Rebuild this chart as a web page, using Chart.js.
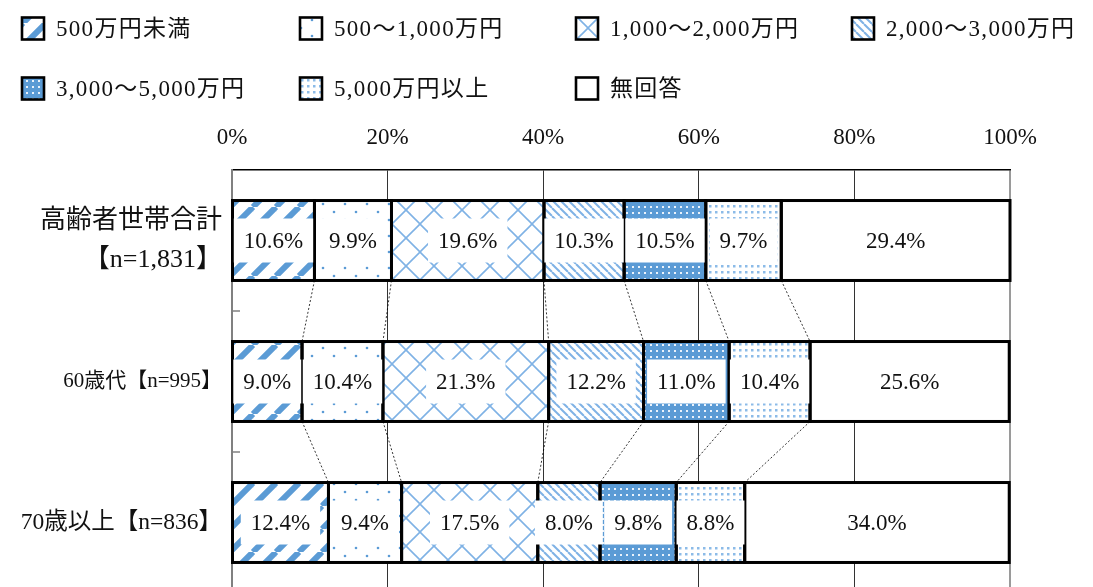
<!DOCTYPE html>
<html lang="ja">
<head>
<meta charset="utf-8">
<title>高齢者世帯の金融資産保有額</title>
<script src="https://cdn.jsdelivr.net/npm/chart.js@4.4.1/dist/chart.umd.min.js"></script>
<style>
  html, body { margin: 0; padding: 0; background: #fff; overflow: hidden; }
  #c { position: absolute; left: 0; top: 0; }
</style>
</head>
<body>
<canvas id="c" width="1093" height="600"></canvas>
<script>
// Categories (rows) and series (stacked segments, % of households)
const categories = [['高齢者世帯合計', '【n=1,831】'], '60歳代【n=995】', '70歳以上【n=836】'];
const seriesNames = ['500万円未満', '500～1,000万円', '1,000～2,000万円', '2,000～3,000万円',
                     '3,000～5,000万円', '5,000万円以上', '無回答'];
const under500      = [10.6,  9.0, 12.4];
const from500to1k   = [ 9.9, 10.4,  9.4];
const from1kto2k    = [19.6, 21.3, 17.5];
const from2kto3k    = [10.3, 12.2,  8.0];
const from3kto5k    = [10.5, 11.0,  9.8];
const over5k        = [ 9.7, 10.4,  8.8];
const noAnswer      = [29.4, 25.6, 34.0];
const axisTicks     = [0, 20, 40, 60, 80, 100];

const seriesValues = [under500, from500to1k, from1kto2k, from2kto3k, from3kto5k, over5k, noAnswer];

const FONT = "'Liberation Serif', 'Noto Sans CJK JP', serif";
const BLUE = '#5b9bd5';
const LIGHT = '#7fb2e5';
const categoryFontSizes = [26, 21, 23.5];

// ---- fill patterns ----
function makePattern(w, h, draw) {
  const c = document.createElement('canvas');
  c.width = w; c.height = h;
  const g = c.getContext('2d');
  g.fillStyle = '#fff';
  g.fillRect(0, 0, w, h);
  draw(g, w, h);
  return document.createElement('canvas').getContext('2d').createPattern(c, 'repeat');
}
const patterns = [
  // wide forward diagonal stripes
  makePattern(23, 23, (g, w, h) => {
    g.strokeStyle = BLUE; g.lineWidth = 6;
    for (let k = -1; k <= 1; k++) {
      g.beginPath(); g.moveTo(k * w, h); g.lineTo(k * w + w, 0); g.stroke();
    }
  }),
  // sparse dots
  makePattern(22, 16, (g) => {
    g.fillStyle = BLUE;
    g.beginPath(); g.arc(4, 4, 1.3, 0, Math.PI * 2); g.fill();
    g.beginPath(); g.arc(15, 12, 1.3, 0, Math.PI * 2); g.fill();
  }),
  // diamond lattice
  makePattern(28, 28, (g, w, h) => {
    g.strokeStyle = LIGHT; g.lineWidth = 1.6;
    g.beginPath(); g.moveTo(0, 0); g.lineTo(w, h); g.stroke();
    g.beginPath(); g.moveTo(0, h); g.lineTo(w, 0); g.stroke();
  }),
  // narrow backward diagonal stripes
  makePattern(8, 8, (g, w, h) => {
    g.strokeStyle = LIGHT; g.lineWidth = 2;
    for (let k = -1; k <= 1; k++) {
      g.beginPath(); g.moveTo(k * w, 0); g.lineTo(k * w + w, h); g.stroke();
    }
  }),
  // solid blue with white dots
  makePattern(6, 6, (g, w, h) => {
    g.fillStyle = BLUE; g.fillRect(0, 0, w, h);
    g.fillStyle = '#eaf2fb'; g.fillRect(2, 2, 2, 2);
  }),
  // fine blue dots on white
  makePattern(6, 6, (g) => {
    g.fillStyle = '#8cbbe8'; g.fillRect(1, 1, 2.5, 2.5);
  }),
  '#ffffff'
];

// ---- segment outlines, series lines, value labels, left ticks ----
const decorations = {
  id: 'decorations',
  afterDatasetsDraw(chart) {
    const ctx = chart.ctx;
    const bars = chart.data.datasets.map((ds, di) =>
      chart.getDatasetMeta(di).data.map(el => el.getProps(['x', 'y', 'base', 'height'], true)));

    ctx.save();
    // small category separators on the left axis
    const ys = chart.scales.y;
    ctx.strokeStyle = '#808080'; ctx.lineWidth = 1.5;
    for (let i = 0; i < categories.length - 1; i++) {
      const yy = (ys.getPixelForValue(i) + ys.getPixelForValue(i + 1)) / 2;
      ctx.beginPath(); ctx.moveTo(chart.chartArea.left, yy); ctx.lineTo(chart.chartArea.left + 8, yy); ctx.stroke();
    }

    // series lines joining segment ends of neighbouring bars
    ctx.strokeStyle = '#000'; ctx.lineWidth = 0.8; ctx.setLineDash([2, 2]);
    for (let di = 0; di < bars.length - 1; di++) {
      for (let i = 0; i < categories.length - 1; i++) {
        const a = bars[di][i], b = bars[di][i + 1];
        ctx.beginPath();
        ctx.moveTo(a.x, a.y + a.height / 2);
        ctx.lineTo(b.x, b.y - b.height / 2);
        ctx.stroke();
      }
    }
    ctx.setLineDash([]);

    // segment outlines
    ctx.strokeStyle = '#000'; ctx.lineWidth = 3;
    bars.forEach(list => list.forEach(p => {
      ctx.strokeRect(Math.min(p.x, p.base), p.y - p.height / 2, Math.abs(p.x - p.base), p.height);
    }));

    // value labels on white boxes
    ctx.font = '23px ' + FONT;
    ctx.textAlign = 'center'; ctx.textBaseline = 'middle';
    bars.forEach((list, di) => list.forEach((p, i) => {
      const txt = seriesValues[di][i].toFixed(1) + '%';
      const cx = (p.x + p.base) / 2;
      const w = ctx.measureText(txt).width + 20;
      const h = 44;
      ctx.fillStyle = '#fff';
      ctx.fillRect(cx - w / 2, p.y - h / 2, w, h);
      ctx.fillStyle = '#111';
      ctx.fillText(txt, cx, p.y + 1);
    }));
    ctx.restore();
  },
  afterDraw(chart) {
    // legend: four items in the first row, three in the second
    const ctx = chart.ctx;
    const cols = [22, 300, 576, 852];
    const rows = [28.5, 88.5];
    ctx.save();
    ctx.font = '23px ' + FONT;
    ctx.letterSpacing = '1.3px';
    ctx.textAlign = 'left'; ctx.textBaseline = 'middle';
    seriesNames.forEach((name, i) => {
      const x = cols[i % 4], cy = rows[Math.floor(i / 4)];
      const s = 22;
      ctx.fillStyle = patterns[i];
      ctx.fillRect(x, cy - s / 2, s, s);
      ctx.strokeStyle = '#000'; ctx.lineWidth = 2.6;
      ctx.strokeRect(x, cy - s / 2, s, s);
      ctx.fillStyle = '#111';
      ctx.fillText(name, x + 34, cy + 1);
    });
    ctx.restore();
  }
};

const datasets = seriesNames.map((name, i) => ({
  label: name,
  data: seriesValues[i],
  backgroundColor: patterns[i],
  borderWidth: 0,
  barPercentage: 0.567,
  categoryPercentage: 1.0
}));

new Chart(document.getElementById('c'), {
  type: 'bar',
  data: { labels: categories, datasets },
  options: {
    indexAxis: 'y',
    responsive: false,
    animation: false,
    devicePixelRatio: 1,
    layout: { padding: { top: 110, right: 83, bottom: 7, left: 0 } },
    plugins: { legend: { display: false }, tooltip: { enabled: false } },
    scales: {
      x: {
        position: 'top',
        stacked: true,
        min: 0, max: 100,
        afterFit: s => { s.height = 60; s.paddingLeft = 0; s.paddingRight = 0; },
        afterBuildTicks: s => { s.ticks = axisTicks.map(v => ({ value: v })); },
        ticks: {
          callback: v => v + '%',
          color: '#111',
          padding: 18,
          font: { family: FONT, size: 23 }
        },
        grid: {
          drawTicks: false,
          color: ctx => (ctx.tick && ctx.tick.value === 100) ? '#9a9a9a' : '#333',
          lineWidth: ctx => (ctx.tick && ctx.tick.value === 100) ? 2 : 1
        },
        border: { display: true, color: '#000', width: 1.5 }
      },
      y: {
        stacked: true,
        afterFit: s => { s.width = 232; s.paddingTop = 0; s.paddingBottom = 0; },
        ticks: {
          color: '#111',
          padding: 2,
          autoSkip: false,
          font: ctx => ({ family: FONT, size: categoryFontSizes[ctx.index] || 23, lineHeight: 1.5 })
        },
        grid: { display: false },
        border: { display: true, color: '#808080', width: 2 }
      }
    }
  },
  plugins: [decorations]
});
</script>
</body>
</html>
